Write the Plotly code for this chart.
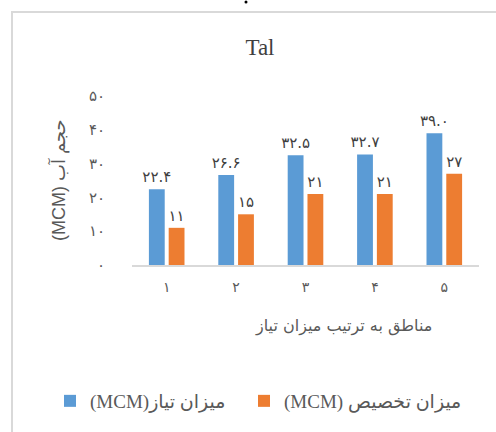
import plotly.graph_objects as go

# ---- data ----
categories = [1, 2, 3, 4, 5]
category_labels = ["۱", "۲", "۳", "۴", "۵"]
demand = [22.4, 26.6, 32.5, 32.7, 39.0]      # میزان نیاز
allocation = [11, 15, 21, 21, 27]            # میزان تخصیص
y_ticks = [0, 10, 20, 30, 40, 50]
y_tick_labels = ["۰", "۱۰", "۲۰", "۳۰", "۴۰", "۵۰"]
demand_name = "(MCM)میزان تیاز"
allocation_name = "(MCM) میزان تخصیص"
chart_title = "Tal"
x_title = "مناطق به ترتیب میزان تیاز"
y_title = "(MCM) حجم آب"

FA = str.maketrans("0123456789", "۰۱۲۳۴۵۶۷۸۹")
demand_text = [f"{v:.1f}".translate(FA) for v in demand]
allocation_text = [f"{v:g}".translate(FA) for v in allocation]

W, H = 496, 432
L, R, T, B = 132, 17, 96, 167
pw, ph = W - L - R, H - T - B

def px_to_paper_x(px):
    return (px - L) / pw

def px_to_paper_y(py):
    return (H - B - py) / ph

lab_font = dict(family="DejaVu Sans", size=15, color="#404040")
leg_font = dict(family="Liberation Serif, DejaVu Sans", size=19, color="#595959")

fig = go.Figure()
fig.add_trace(go.Bar(
    x=categories, y=demand, name=demand_name, legend="legend",
    marker=dict(color="#5b9bd5", line=dict(width=0)),
    text=demand_text, textposition="outside", textfont=lab_font,
    constraintext="none", cliponaxis=False,
))
fig.add_trace(go.Bar(
    x=categories, y=allocation, name=allocation_name, legend="legend2",
    marker=dict(color="#ed7d31", line=dict(width=0)),
    text=allocation_text, textposition="outside", textfont=lab_font,
    constraintext="none", cliponaxis=False,
))

fig.update_layout(
    width=W, height=H,
    margin=dict(l=L, r=R, t=T, b=B),
    paper_bgcolor="white", plot_bgcolor="white",
    barmode="group", bargap=0.43, bargroupgap=0.2,
    showlegend=True,
    legend=dict(
        orientation="h", x=px_to_paper_x(50), y=px_to_paper_y(401),
        xanchor="left", yanchor="middle", font=leg_font, itemwidth=30,
        bgcolor="rgba(0,0,0,0)",
    ),
    legend2=dict(
        orientation="h", x=px_to_paper_x(244), y=px_to_paper_y(401),
        xanchor="left", yanchor="middle", font=leg_font, itemwidth=30,
        bgcolor="rgba(0,0,0,0)",
    ),
    title=dict(
        text=chart_title, x=260 / W, xref="container", xanchor="center",
        y=1 - 47 / H, yref="container", yanchor="middle",
        font=dict(family="Liberation Serif", size=23, color="#404040"),
    ),
)

fig.update_xaxes(
    tickmode="array", tickvals=categories, ticktext=category_labels,
    showline=True, linecolor="#d9d9d9", linewidth=1.5,
    showgrid=False, ticks="", zeroline=False,
    ticklabelstandoff=8,
    tickfont=dict(family="DejaVu Sans", size=14, color="#595959"),
    range=[0.5, 5.5],
)
fig.update_yaxes(
    tickmode="array", tickvals=y_ticks, ticktext=y_tick_labels,
    range=[0, 50], showline=False, showgrid=False, zeroline=False, ticks="",
    ticklabelstandoff=26,
    tickfont=dict(family="DejaVu Sans", size=15, color="#595959"),
)

fig.add_annotation(
    text=x_title, xref="paper", yref="paper",
    x=px_to_paper_x(343), y=px_to_paper_y(326),
    showarrow=False, xanchor="center", yanchor="middle",
    font=dict(family="DejaVu Sans", size=16, color="#595959"),
)
fig.add_annotation(
    text=y_title, xref="paper", yref="paper",
    x=px_to_paper_x(58), y=px_to_paper_y(180), textangle=-90,
    showarrow=False, xanchor="center", yanchor="middle",
    font=dict(family="Liberation Sans, DejaVu Sans", size=18, color="#595959"),
)

# small stray dot at the top edge of the crop
fig.add_shape(
    type="circle", xref="paper", yref="paper",
    x0=px_to_paper_x(244.5), y0=px_to_paper_y(0.5),
    x1=px_to_paper_x(247.5), y1=px_to_paper_y(3.5),
    line=dict(width=0), fillcolor="#000000",
)

# chart border (extends beyond the visible crop on right and bottom)
fig.add_shape(
    type="rect", xref="paper", yref="paper",
    x0=px_to_paper_x(12), y0=px_to_paper_y(12),
    x1=px_to_paper_x(W + 20), y1=px_to_paper_y(H + 20),
    line=dict(color="#d9d9d9", width=2), fillcolor="rgba(0,0,0,0)",
    layer="below",
)

fig.write_html(
    "out.html",
    config={"displayModeBar": False},
    post_script="document.body.style.margin='0';document.body.style.overflow='hidden';",
)
